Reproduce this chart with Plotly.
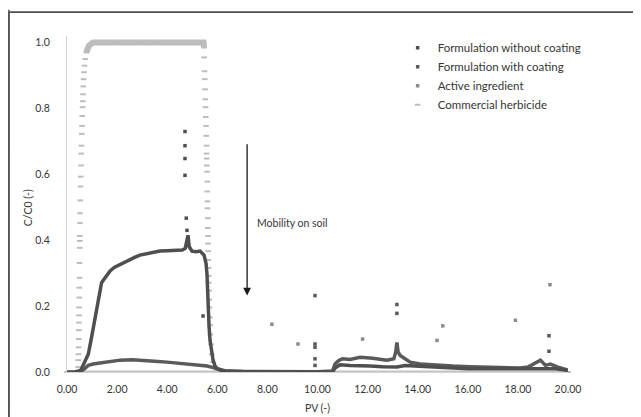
import plotly.graph_objects as go

# ---------------- data ----------------
# Formulation without coating (main curve)
fwo_pv = [0.00, 0.30, 0.55, 0.65, 0.75, 0.85, 0.98, 1.12, 1.25, 1.38, 1.52, 1.72, 1.90, 2.12, 2.40,
          2.70, 2.91, 3.20, 3.50, 3.71, 4.00, 4.30, 4.60, 4.72, 4.79, 4.83, 4.88, 4.99, 5.15, 5.31,
          5.47, 5.55, 5.59, 5.63, 5.67, 5.71, 5.77, 5.83, 5.90, 5.99, 6.20, 7.00, 8.00, 9.00, 10.00,
          10.60, 10.70, 10.90, 11.30, 11.70, 12.10, 12.60, 13.17, 13.50, 14.00, 15.00, 16.00, 17.00,
          18.00, 19.00, 19.50, 20.00]
fwo_c = [0.000, 0.000, 0.005, 0.020, 0.035, 0.054, 0.105, 0.166, 0.226, 0.271, 0.286, 0.307, 0.318, 0.327, 0.338,
         0.348, 0.355, 0.360, 0.364, 0.367, 0.368, 0.370, 0.370, 0.375, 0.400, 0.415, 0.380, 0.367, 0.365, 0.367,
         0.355, 0.330, 0.295, 0.195, 0.140, 0.096, 0.060, 0.036, 0.020, 0.010, 0.003, 0.000, 0.000, 0.000, 0.000,
         0.000, 0.012, 0.022, 0.020, 0.020, 0.018, 0.016, 0.015, 0.020, 0.018, 0.012, 0.010, 0.010,
         0.010, 0.012, 0.010, 0.005]
# Formulation without coating (isolated points)
fwo_out_pv = [4.71, 4.71, 4.71, 4.71, 4.76, 4.79, 5.43]
fwo_out_c = [0.730, 0.687, 0.648, 0.597, 0.467, 0.430, 0.170]

# Formulation with coating (main curve)
fwc_pv = [0.55, 0.70, 0.85, 1.04, 1.50, 2.12, 2.60, 3.03, 3.50, 3.99, 4.40, 4.79, 5.20, 5.59, 5.80,
          5.99, 6.30, 7.00, 8.00, 9.00, 10.00, 10.60, 10.70, 10.85, 11.00, 11.30, 11.70, 12.20, 12.77,
          13.05, 13.12, 13.17, 13.22, 13.30, 13.70, 14.10, 14.80, 15.40, 16.10, 16.77, 17.40, 18.10,
          18.40, 18.60, 18.90, 19.10, 19.30, 19.60, 19.97]
fwc_c = [0.000, 0.010, 0.020, 0.024, 0.030, 0.036, 0.037, 0.036, 0.033, 0.030, 0.027, 0.024, 0.021, 0.018, 0.014,
         0.010, 0.004, 0.002, 0.001, 0.001, 0.001, 0.003, 0.024, 0.035, 0.040, 0.038, 0.045, 0.042, 0.036,
         0.040, 0.060, 0.090, 0.060, 0.050, 0.030, 0.024, 0.020, 0.018, 0.016, 0.015, 0.013, 0.012,
         0.015, 0.024, 0.036, 0.020, 0.024, 0.015, 0.006]
fwc_out_pv = [9.90, 9.90, 9.90, 9.90, 9.90, 13.17, 13.17, 19.24, 19.24]
fwc_out_c = [0.232, 0.085, 0.075, 0.040, 0.020, 0.205, 0.178, 0.110, 0.063]

# Active ingredient
ai_pv = [0.0, 2.0, 4.0, 6.0, 8.0, 10.0, 12.0, 14.0, 16.0, 18.0, 20.0]
ai_c = [0.0, 0.0, 0.0, 0.0, 0.0, 0.0, 0.0, 0.0, 0.0, 0.0, 0.0]
ai_out_pv = [8.18, 9.22, 11.80, 14.77, 15.00, 17.90, 19.28]
ai_out_c = [0.145, 0.085, 0.100, 0.096, 0.140, 0.157, 0.265]

# Commercial herbicide
ch_pv = [0.00, 0.20, 0.40,
         0.45, 0.45, 0.46, 0.46, 0.47, 0.47, 0.48, 0.48, 0.48, 0.49, 0.49, 0.50, 0.50, 0.51, 0.51, 0.51,
         0.52, 0.52, 0.53, 0.54, 0.55, 0.56, 0.57, 0.58, 0.59, 0.60, 0.61, 0.62, 0.63, 0.64, 0.65, 0.66,
         0.68, 0.70, 0.73, 0.77, 0.81, 0.87, 0.95, 1.04,
         1.20, 1.50, 2.00, 2.50, 2.90, 3.10, 3.40, 3.70, 4.00, 4.50, 5.00, 5.45,
         5.47, 5.48, 5.49, 5.50, 5.51, 5.52, 5.53, 5.54, 5.55, 5.56, 5.57, 5.57, 5.58, 5.58, 5.59, 5.60,
         5.60, 5.61, 5.61, 5.62, 5.62, 5.63, 5.63, 5.64, 5.64, 5.65, 5.66, 5.66, 5.67, 5.68, 5.69, 5.70,
         5.72, 5.73, 5.75, 5.78, 5.82, 5.88, 5.95, 6.20, 8.00, 10.00, 12.00, 14.00, 16.00, 18.00, 20.00]
ch_c = [0.000, 0.000, 0.000,
        0.015, 0.036, 0.054, 0.075, 0.100, 0.127, 0.150, 0.172, 0.196, 0.226, 0.256, 0.286, 0.331, 0.377,
        0.398, 0.413, 0.452, 0.482, 0.521, 0.563, 0.593, 0.627, 0.663, 0.687, 0.723, 0.747, 0.777, 0.804,
        0.822, 0.843, 0.867, 0.889,
        0.910, 0.930, 0.950, 0.970, 0.980, 0.990, 0.995, 1.000,
        1.000, 1.000, 1.002, 1.000, 1.004, 1.002, 1.000, 1.002, 1.000, 1.000, 1.000, 1.000,
        0.985, 0.955, 0.913, 0.889, 0.858, 0.828, 0.804, 0.774, 0.747, 0.717, 0.687, 0.663, 0.648, 0.627,
        0.608, 0.578, 0.548, 0.518, 0.497, 0.467, 0.437, 0.413, 0.390, 0.367, 0.340, 0.316, 0.292, 0.271,
        0.247, 0.220, 0.196, 0.166, 0.142, 0.114, 0.084, 0.054, 0.030, 0.015, 0.005, 0.000, 0.000, 0.000,
        0.000, 0.000, 0.000, 0.000, 0.000]

x_ticks = [0, 2, 4, 6, 8, 10, 12, 14, 16, 18, 20]
y_ticks = [0.0, 0.2, 0.4, 0.6, 0.8, 1.0]

names = ["Formulation without coating", "Formulation with coating",
         "Active ingredient", "Commercial herbicide"]

# ---------------- styles ----------------
FONT = "Lato, 'Open Sans', sans-serif"
TXT = "#363636"
C_FWO = "#4f4f4f"
C_FWC = "#5a5a5a"
C_AI = "#8c8c8c"
C_CH = "#bdbdbd"
FRAME = "#505050"
PLOT_W, PLOT_H = 501, 339

fig = go.Figure()

# Commercial herbicide: plateau drawn as thick band + individual marks
ch_plateau = [c if c >= 0.97 else None for c in ch_c]
fig.add_trace(go.Scatter(x=ch_pv, y=ch_plateau, mode="lines", showlegend=False,
                         line=dict(color=C_CH, width=6), connectgaps=False, hoverinfo="skip"))
fig.add_trace(go.Scatter(x=ch_pv, y=ch_c, mode="markers", name=names[3], legendrank=4,
                         cliponaxis=False,
                         marker=dict(symbol="line-ew", size=4, color=C_CH,
                                     line=dict(color=C_CH, width=2))))

# Active ingredient
fig.add_trace(go.Scatter(x=ai_pv, y=ai_c, mode="lines", showlegend=False,
                         line=dict(color="#c4c4c4", width=3), hoverinfo="skip"))
fig.add_trace(go.Scatter(x=ai_out_pv, y=ai_out_c, mode="markers", name=names[2], legendrank=3,
                         cliponaxis=False,
                         marker=dict(symbol="square", size=3.5, color=C_AI)))

# Formulation with coating
fig.add_trace(go.Scatter(x=fwc_pv, y=fwc_c, mode="lines", showlegend=False,
                         line=dict(color=C_FWC, width=3.5), hoverinfo="skip"))
fig.add_trace(go.Scatter(x=fwc_out_pv, y=fwc_out_c, mode="markers", name=names[1], legendrank=2,
                         cliponaxis=False,
                         marker=dict(symbol="square", size=3.5, color=C_FWC)))

# Formulation without coating
fig.add_trace(go.Scatter(x=fwo_pv, y=fwo_c, mode="lines", showlegend=False,
                         line=dict(color=C_FWO, width=3.5), hoverinfo="skip"))
fig.add_trace(go.Scatter(x=fwo_out_pv, y=fwo_out_c, mode="markers", name=names[0], legendrank=1,
                         cliponaxis=False,
                         marker=dict(symbol="square", size=3.5, color=C_FWO)))

# arrow + annotation
fig.add_annotation(x=7.19, y=0.232, ax=7.19, ay=0.696, xref="x", yref="y", axref="x", ayref="y",
                   text="", showarrow=True, arrowhead=2, arrowsize=1.2, arrowwidth=1.3,
                   arrowcolor="#1a1a1a")
fig.add_annotation(x=7.5, y=0.452, xref="x", yref="y", text="Mobility on soil", showarrow=False,
                   xanchor="left", yanchor="middle", font=dict(family=FONT, size=10.5, color=TXT))

# y-axis title as rotated text
fig.add_annotation(x=-0.078, y=0.49, xref="paper", yref="paper", text="C/C0 (-)", textangle=-90,
                   showarrow=False, xanchor="center", yanchor="middle",
                   font=dict(family=FONT, size=10.5, color=TXT))

# outer frame lines (top and left) as shapes
FX, FY, FX1, FY1 = -0.116, 1.071, 1.15, -0.2
fig.add_shape(type="line", xref="paper", yref="paper", x0=FX, x1=FX1, y0=FY, y1=FY,
              line=dict(color=FRAME, width=1.5))
fig.add_shape(type="line", xref="paper", yref="paper", x0=FX, x1=FX, y0=FY, y1=FY1,
              line=dict(color=FRAME, width=1.5))
# same frame lines, also as head-less arrow strokes
fig.add_annotation(x=FX1, y=FY, xref="paper", yref="paper", axref="pixel", ayref="pixel",
                   ax=-(FX1 - FX) * PLOT_W, ay=0, text="", showarrow=True, arrowhead=0,
                   arrowwidth=1.5, arrowcolor=FRAME, standoff=0, startstandoff=0)
fig.add_annotation(x=FX, y=FY1, xref="paper", yref="paper", axref="pixel", ayref="pixel",
                   ax=0, ay=-(FY - FY1) * PLOT_H, text="", showarrow=True, arrowhead=0,
                   arrowwidth=1.5, arrowcolor=FRAME, standoff=0, startstandoff=0)

fig.update_layout(
    width=641, height=417,
    margin=dict(l=59, r=81, t=28, b=50),
    paper_bgcolor="white", plot_bgcolor="white",
    font=dict(family=FONT, size=10.5, color=TXT),
    showlegend=True,
    legend=dict(x=0.66, y=1.008, xanchor="left", yanchor="top", bgcolor="rgba(0,0,0,0)",
                font=dict(family=FONT, size=11.5, color=TXT), tracegroupgap=0, itemwidth=30),
    xaxis=dict(range=[0, 20], tickvals=x_ticks, tickformat=".2f", showgrid=False, zeroline=False,
               showline=True, linecolor="#d4d4d4", linewidth=1,
               ticks="outside", ticklen=7, tickcolor="rgba(0,0,0,0)",
               title=dict(text="PV (-)", standoff=11, font=dict(family=FONT, size=10.5, color=TXT))),
    yaxis=dict(range=[0, 1.02], tickvals=y_ticks, tickformat=".1f", showgrid=False, zeroline=False,
               showline=True, linecolor="#d4d4d4", linewidth=1,
               ticks="outside", ticklen=14, tickcolor="rgba(0,0,0,0)"),
)

fig.write_html("out.html")
